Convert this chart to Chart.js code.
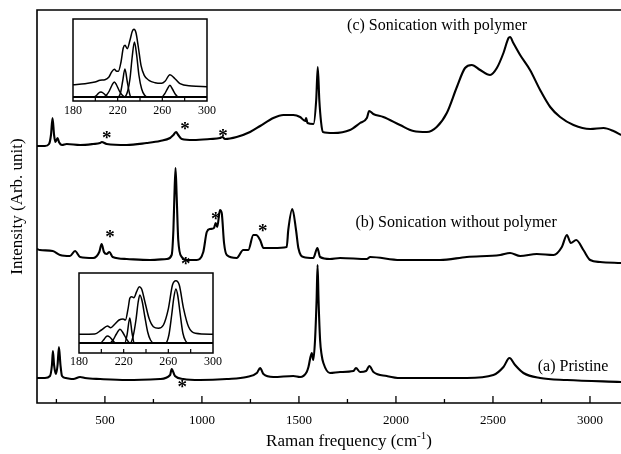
<!DOCTYPE html>
<html><head><meta charset="utf-8">
<script src="https://cdn.jsdelivr.net/npm/chart.js@4.4.1/dist/chart.umd.min.js"></script>
<style>
html,body{margin:0;padding:0;background:#fff;overflow:hidden;width:621px;height:454px;}
#wrap{position:relative;width:621px;height:454px;overflow:hidden;background:#fff;}
canvas{position:absolute;}
</style></head><body>
<div id="wrap">
<canvas id="main" width="661" height="454" style="left:0;top:0;width:661px;height:454px"></canvas>
<canvas id="in1" width="160" height="110" style="left:60px;top:10px;width:160px;height:110px"></canvas>
<canvas id="in2" width="160" height="110" style="left:66px;top:263px;width:160px;height:110px"></canvas>
</div>
<script>
// ---------- main spectra (Raman shift in cm-1, intensity in arbitrary units) ----------
const polymerX = [150,191,212,222,230,238,245,256,263,279,303,372,439,475,484,509,612,715,784,836,853,867,878,896,956,1042,1093,1105,1119,1179,1248,1300,1368,1420,1471,1506,1532,1537,1544,1575,1589,1597,1605,1614,1623,1677,1763,1815,1850,1862,1883,1935,2021,2090,2159,2210,2262,2314,2356,2391,2434,2485,2520,2554,2580,2588,2605,2640,2691,2743,2795,2846,2915,3001,3070,3121,3160];
const polymerY = [257,257,259,268,285,268,261,265,261,258,259,258,259,260,261,259,258,260,262,265,268,271,268,264,263,264,265,266,264,266,271,277,285,288,288,286,282,285,280,279,303,336,303,281,271,270,273,280,285,292,289,286,278,272,271,276,290,316,335,338,333,328,335,350,365,366,360,348,333,313,296,286,278,274,275,272,268];

const noPolymerX = [150,165,231,269,320,346,372,440,471,483,495,509,523,540,612,733,819,844,853,858,864,870,878,896,922,973,1007,1025,1042,1062,1071,1079,1093,1102,1114,1128,1179,1213,1239,1265,1279,1300,1317,1368,1437,1445,1466,1485,1497,1523,1574,1595,1609,1660,1712,1850,1867,2021,2227,2365,2537,2588,2640,2726,2812,2855,2881,2901,2929,2966,3001,3052,3160];
const noPolymerY = [154,153,152,148,147,152,146,145,151,159,151,149,151,146,144,143,144,148,173,206,235,206,163,146,143,143,151,171,174,175,180,176,193,190,160,148,145,153,153,168,168,163,155,155,156,173,194,173,155,146,145,155,146,144,145,144,146,143,143,146,148,150,147,149,148,156,168,160,163,153,143,141,140];

const pristineX = [150,191,217,227,232,238,248,256,263,271,279,299,337,372,397,475,612,784,836,844,861,904,990,1128,1231,1283,1300,1317,1368,1471,1506,1540,1549,1566,1574,1583,1591,1596,1601,1609,1617,1626,1660,1712,1781,1794,1815,1846,1863,1884,1953,2021,2193,2365,2502,2554,2585,2614,2657,2743,2881,3160];
const pristineY = [25,25,27,38,52,38,29,38,56,38,27,25,24,26,25,24,23,24,28,34,27,24,23,24,26,30,35,29,26,27,26,31,36,50,43,63,103,138,103,63,48,40,30,31,32,35,31,32,37,31,27,25,25,25,28,36,45,38,30,25,23,21];

const xMajorTicks = [500,1000,1500,2000,2500,3000];
const xMinorTicks = [250,750,1250,1750,2250,2750,3250];

// peak markers (*) : [wavenumber, intensity]
const starMarks = [[509,269],[913,278],[1109,271],[526,170],[917,143],[1071,188],[1313,176],[899,20]];
const curveLabels = ["(c) Sonication with polymer","(b) Sonication without polymer","(a) Pristine"];
const curveLabelAnchors = [[2212,377],[2310,180],[2913,36]];

// ---------- inset 1 (sonication with polymer), RBM region ----------
const in1EnvX = [180,190.7,199.7,204.2,208.6,212.2,214.6,217,219.1,220.6,223,225,226.6,228.6,231,233.1,234.6,236.4,238.5,240.9,243.8,248,253.4,259.4,262.4,266.8,271.3,275.8,286.3,300];
const in1EnvY = [16.3,17.3,19,20.7,21.3,24,29,31.7,29.7,29.7,39,53,55.7,52.3,60.7,69.7,71.7,68.3,54,35.7,25.7,20.7,18.3,17.7,19.7,26.3,22.3,17.3,15,14.3];
const in1C1X = [180,198,201,203,205,207,209.5,212,300];
const in1C1Y = [4,4,5.5,8,9,8,5.5,4,4];
const in1C2X = [180,207.5,210,212.5,215,217,219,221.5,224,226.5,300];
const in1C2Y = [4,4,6,10,16,19,16,10,6,4,4];
const in1C3X = [180,220.5,222.5,224.5,226.5,228.5,230.5,232,300];
const in1C3Y = [4,4,8,20,32,20,8,4,4];
const in1C4X = [180,226,229,231,233,235,237,239,241.5,244,246.5,300];
const in1C4Y = [4,4,10,22,44,59,46,26,12,6,4,4];
const in1C5X = [180,259.5,262,264.5,266.8,269,271.5,274.5,300];
const in1C5Y = [4,4,7,12,15.7,12,7,4,4];

// ---------- inset 2 (pristine), RBM region ----------
const in2EnvX = [180,194.1,200.1,205.5,208.4,212,215.9,219.5,221.6,224,225.5,227.1,229.1,231.6,233.9,236.1,239,242.7,246.6,251.1,255.6,260.1,263.7,266.8,269.8,273.6,278.1,284.2,300];
const in2EnvY = [18.7,19,23,27,25.3,28.7,33,34,33,44.7,54.7,56.3,55.3,61.3,66.3,64,51.3,34.7,26.3,24.7,28,44.7,68,72.3,68,44.7,26.3,19.7,18.7];
const in2C1X = [180,199,202,204,205.5,207.5,210,212.5,300];
const in2C1Y = [10,10,13,16,17,16,13,10,10];
const in2C2X = [180,207.5,210.5,213.5,216.7,219.5,222.5,225.5,300];
const in2C2Y = [10,10,13,19,23.7,20,14,10,10];
const in2C3X = [180,221,223,225.5,227.5,229.5,300];
const in2C3Y = [10,10,18,35,20,10,10];
const in2C4X = [180,226,228.5,231,233,234.5,236.5,239,241.5,244,247,300];
const in2C4Y = [10,10,17,33,51,58,52,36,21,13,10,10];
const in2C5X = [180,257.5,260.5,263,265,266.8,268.5,270.5,273,275.5,278,300];
const in2C5Y = [10,10,18,38,56,64,57,40,20,12,10,10];

const insetTicks = [200,220,240,260,280];
const insetTickLabels = [180,220,260,300];

// ---------- helpers ----------
const zip = (xs, ys) => xs.map((v,i)=>({x:v, y:ys[i]}));
const SERIF = '"Liberation Serif","Times New Roman",serif';
function lineDs(xs, ys, w){
  return {data: zip(xs,ys), borderColor:'#000', borderWidth:w, pointRadius:0, fill:false,
          cubicInterpolationMode:'monotone'};
}

const mainPlugin = {
  id:'mainFrame',
  afterDraw(chart){
    const {ctx, chartArea:a, scales:{x,y}} = chart;
    ctx.save();
    ctx.strokeStyle='#000'; ctx.lineWidth=1.6;
    ctx.beginPath();
    ctx.moveTo(a.right, a.top); ctx.lineTo(a.left, a.top);
    ctx.lineTo(a.left, a.bottom); ctx.lineTo(a.right, a.bottom);
    ctx.stroke();
    ctx.lineWidth=1.3;
    xMajorTicks.forEach(v=>{const p=x.getPixelForValue(v);ctx.beginPath();ctx.moveTo(p,a.bottom);ctx.lineTo(p,a.bottom-7);ctx.stroke();});
    xMinorTicks.forEach(v=>{const p=x.getPixelForValue(v);ctx.beginPath();ctx.moveTo(p,a.bottom);ctx.lineTo(p,a.bottom-4);ctx.stroke();});
    ctx.fillStyle='#000';
    ctx.font='13px '+SERIF; ctx.textAlign='center'; ctx.textBaseline='middle';
    xMajorTicks.forEach(v=>ctx.fillText(String(v), x.getPixelForValue(v), a.bottom+18));
    // x title with superscript
    const t1='Raman frequency (cm', sup='-1', t2=')';
    ctx.font='17px '+SERIF; const w1=ctx.measureText(t1).width, w3=ctx.measureText(t2).width;
    ctx.font='11px '+SERIF; const w2=ctx.measureText(sup).width;
    const cx=(a.left+a.right)/2, total=w1+w2+w3; let sx=cx-total/2;
    const by=a.bottom+43;
    ctx.textAlign='left'; ctx.textBaseline='alphabetic';
    ctx.font='17px '+SERIF; ctx.fillText(t1, sx, by);
    ctx.font='11px '+SERIF; ctx.fillText(sup, sx+w1, by-7);
    ctx.font='17px '+SERIF; ctx.fillText(t2, sx+w1+w2, by);
    // y title
    ctx.save();
    ctx.translate(18,(a.top+a.bottom)/2); ctx.rotate(-Math.PI/2);
    ctx.textAlign='center'; ctx.textBaseline='middle'; ctx.font='17px '+SERIF;
    ctx.fillText('Intensity (Arb. unit)',0,0);
    ctx.restore();
    // curve labels
    ctx.font='16px '+SERIF; ctx.textAlign='center'; ctx.textBaseline='middle';
    curveLabels.forEach((s,i)=>ctx.fillText(s, x.getPixelForValue(curveLabelAnchors[i][0]), y.getPixelForValue(curveLabelAnchors[i][1])));
    // stars
    ctx.font='bold 19px '+SERIF; ctx.textBaseline='alphabetic';
    starMarks.forEach(m=>ctx.fillText('*', x.getPixelForValue(m[0]), y.getPixelForValue(m[1])+10));
    ctx.restore();
  }
};

new Chart(document.getElementById('main'), {
  type:'line',
  data:{datasets:[lineDs(polymerX,polymerY,2.1), lineDs(noPolymerX,noPolymerY,2.1), lineDs(pristineX,pristineY,2.1)]},
  options:{
    responsive:false, animation:false, devicePixelRatio:1,
    layout:{padding:{left:37,top:10,right:0,bottom:51}, autoPadding:false},
    scales:{x:{type:'linear',min:150,max:3366,display:false}, y:{type:'linear',min:0,max:393,display:false}},
    plugins:{legend:{display:false}, tooltip:{enabled:false}}
  },
  plugins:[mainPlugin]
});

function insetPlugin(labelGap){
  return {
    id:'insetFrame',
    beforeDatasetsDraw(chart){
      const {ctx, chartArea:a} = chart;
      ctx.save(); ctx.fillStyle='#fff'; ctx.fillRect(a.left,a.top,a.right-a.left,a.bottom-a.top); ctx.restore();
    },
    afterDraw(chart){
      const {ctx, chartArea:a, scales:{x}} = chart;
      ctx.save();
      ctx.strokeStyle='#000'; ctx.lineWidth=1.5;
      ctx.strokeRect(a.left,a.top,a.right-a.left,a.bottom-a.top);
      ctx.lineWidth=1.2;
      insetTicks.forEach(v=>{const p=x.getPixelForValue(v);ctx.beginPath();ctx.moveTo(p,a.bottom);ctx.lineTo(p,a.bottom-4);ctx.stroke();});
      ctx.fillStyle='#000'; ctx.font='12px '+SERIF; ctx.textAlign='center'; ctx.textBaseline='middle';
      insetTickLabels.forEach(v=>ctx.fillText(String(v), x.getPixelForValue(v), a.bottom+labelGap));
      ctx.restore();
    }
  };
}
function makeInset(id, series, yMax, pad, labelGap){
  new Chart(document.getElementById(id), {
    type:'line',
    data:{datasets: series.map(s=>lineDs(s[0],s[1],1.5))},
    options:{
      responsive:false, animation:false, devicePixelRatio:1,
      layout:{padding:pad, autoPadding:false},
      scales:{x:{type:'linear',min:180,max:300,display:false}, y:{type:'linear',min:0,max:yMax,display:false}},
      plugins:{legend:{display:false}, tooltip:{enabled:false}}
    },
    plugins:[insetPlugin(labelGap)]
  });
}
makeInset('in1', [[in1EnvX,in1EnvY],[in1C1X,in1C1Y],[in1C2X,in1C2Y],[in1C3X,in1C3Y],[in1C4X,in1C4Y],[in1C5X,in1C5Y]], 82, {left:13,right:13,top:9,bottom:19}, 10);
makeInset('in2', [[in2EnvX,in2EnvY],[in2C1X,in2C1Y],[in2C2X,in2C2Y],[in2C3X,in2C3Y],[in2C4X,in2C4Y],[in2C5X,in2C5Y]], 80, {left:13,right:13,top:10,bottom:20}, 9);
</script>
</body></html>
